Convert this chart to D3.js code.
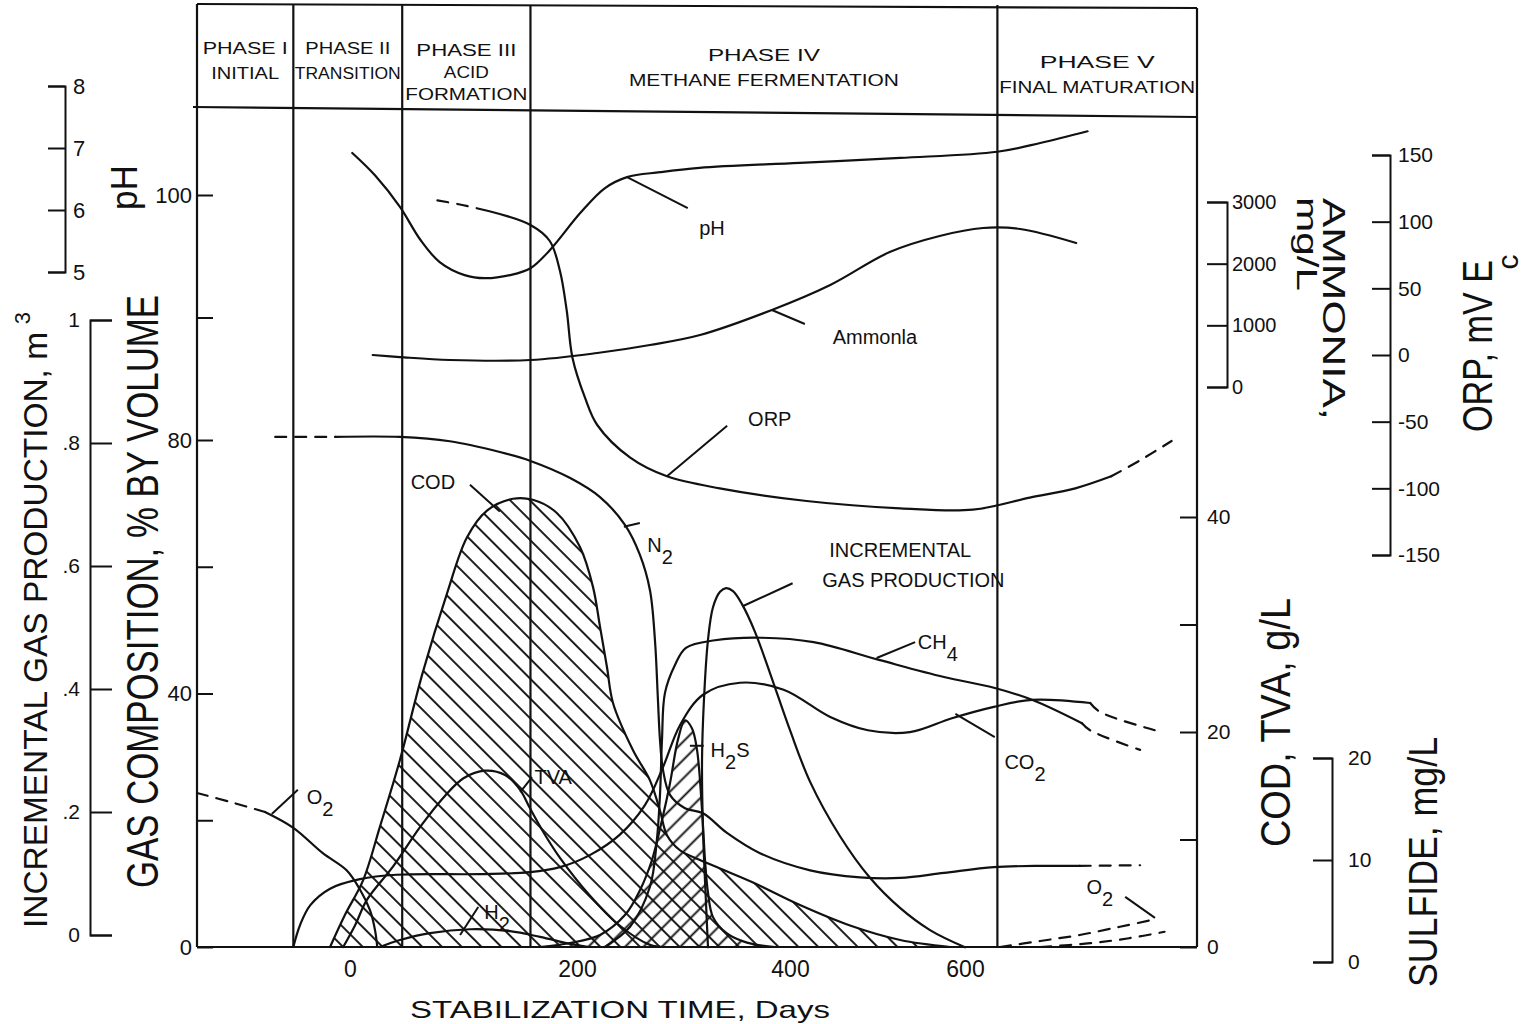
<!DOCTYPE html>
<html><head><meta charset="utf-8">
<script src="https://d3js.org/d3.v7.min.js"></script>
<style>
html,body{margin:0;padding:0;background:#fff;}
svg{display:block;}
text{font-family:"Liberation Sans",Arial,Helvetica,sans-serif;fill:#111;}
</style></head><body>
<svg id="chart" width="1528" height="1024"></svg>
<script>
// ---------------- DATA (days, value) ----------------
const xTickValues = [0, 200, 400, 600];
const phaseBounds = [-50, 46, 159, 637];
const phaseNames = [["PHASE I","INITIAL"],["PHASE II","TRANSITION"],["PHASE III","ACID","FORMATION"],["PHASE IV","METHANE FERMENTATION"],["PHASE  V","FINAL MATURATION"]];

const phTicks = [5, 6, 7, 8];
const prodTicks = [0, 0.2, 0.4, 0.6, 0.8, 1];
const prodTickLabels = ["0", ".2", ".4", ".6", ".8", "1"];
const gasTicks = [0, 20, 40, 60, 80, 100, 120];
const gasTickLabels = ["0", "", "40", "", "80", "", "100"];
const codTicks = [0, 10, 20, 30, 40];
const codTickLabels = ["0", "", "20", "", "40"];
const sulfTicks = [0, 10, 20];
const nh3Ticks = [0, 1000, 2000, 3000];
const orpTicks = [-150, -100, -50, 0, 50, 100, 150];

const pHData = [[2,6.92],[22,6.56],[44,6.05],[62,5.52],[79,5.16],[101,4.95],[119,4.90],[141,4.95],[159,5.06],[176,5.35],[203,5.95],[226,6.35],[247,6.53],[278,6.61],[315,6.68],[411,6.76],[526,6.84],[637,6.94],[686,7.08],[740,7.27]];

const orpDashStart = [[77,116],[99,112.5],[122,108]];
const orpData = [[122,108],[159,97.5],[176,85.5],[185,63],[191,33],[196,-2],[207.5,-32],[219,-52.5],[250,-77],[284.5,-91],[334,-100],[419,-109.5],[526,-115],[609,-116],[674,-107],[726,-100],[767,-91]];
const orpDashEnd = [[767,-91],[800,-79],[836,-64.5]];

const nh3Data = [[20,519],[44,486],[88,438],[159,438],[219,551],[268.5,681],[315.5,843],[383,1249],[446,1654],[514,2189],[571,2449],[620.6,2578],[663,2562],[727,2335]];

const n2DashStart = [[-66,80.5],[-13,80.5]];
const n2Data = [[-13,80.5],[44,80.5],[88,79.8],[132,78.1],[159,76.7],[194,74.0],[221.6,71.0],[245,66.6],[259,61.9],[268.5,56.3],[273.2,48.4],[276,39.0],[277.9,32.7],[280.8,27.9],[287.3,24.0],[301.4,21.9],[318.3,21.1],[340.8,18.0],[371.8,14.8],[423,12.1],[480,11.0],[526,10.9],[576,11.7],[633,12.6],[690,12.8],[731,12.8]];
const n2DashEnd = [[731,12.8],[800,12.9]];

const o2DashStart = [[-135,24.3],[-106,22.9],[-75,21.3]];
const o2Data = [[-75,21.3],[-50,18.8],[-24,14.8],[-3,12.1],[9,9.0],[17.6,5.8],[22,2.7],[24,0]];
const o2LateA = [[640,0],[686,0.95],[731,1.9],[777,3.2],[815,4.3]];
const o2LateB = [[686,0],[743,0.6],[788,1.4],[828,2.4]];

const co2Data = [[-50,0],[-44,3.5],[-35,6.6],[-17.6,9.2],[8.8,10.7],[41,11.4],[114.5,11.5],[158.6,11.8],[185,12.6],[212,14.5],[240,17.7],[263.8,22.4],[280.8,28.4],[296.7,35.0],[318.3,39.8],[353,41.7],[394,40.6],[446,36.3],[489,34.2],[537,33.9],[585,36.1],[633,37.9],[676.5,39.0],[743,38.5]];
const co2DashEnd = [[743,38.5],[754,37.1],[817,34.2]];

const ch4Data = [[226,0],[249.8,3.2],[268.5,9.5],[275,16.9],[278,24.3],[279.8,32.7],[282.6,40.1],[292,44.5],[302.3,47.2],[329.6,48.4],[372.8,48.8],[427,48.1],[501.7,45.3],[576,42.6],[633,40.9],[676.5,39.0],[733.6,35.3]];
const ch4DashEnd = [[733.6,35.3],[742.8,34.2],[800,31.1]];

const h2Data = [[26.4,0],[44,1.1],[70.5,2.2],[105.7,2.8],[141,2.5],[167.4,1.6],[194,0.5],[211,0]];

const tvaData = [[-6,0],[4.4,2.0],[15,4.4],[38,7.5],[62,11.2],[84,14.1],[100,15.7],[119,16.4],[136.6,16.0],[150,14.6],[158.6,12.9],[172,10.4],[185,8.3],[212,4.8],[240,2.0],[268.5,0.2],[282.6,0]];

const codData = [[-17.6,0],[-4.4,3.0],[11.5,6.2],[26.4,11.2],[44,17.4],[64,25.5],[85.5,32.9],[103,38.1],[120.7,40.6],[143.6,41.7],[161,41.6],[182,40.4],[202.8,37.2],[215,33.5],[221.6,29.8],[228.2,26.0],[233.8,22.7],[252.6,18.3],[268.5,15.5],[277.9,12.7],[284.5,10.4],[296.7,9.0],[315.5,8.1],[334.3,7.3],[365.3,6.0],[411.4,3.9],[468.6,2.0],[526,0.65],[583,0]];

const h2sData = [[167.4,1.47],[193.8,1.86],[221.6,2.65],[245,4.6],[259.2,7.06],[270.4,10.0],[279.8,13.9],[287.3,17.5],[294.8,21.8],[301.4,23.7],[308,22.9],[312.7,20.8],[317.4,14.9],[320.2,10.0],[323,6.8],[327.7,4.4],[340.8,2.8],[359.6,1.9],[385.9,1.47]];

const gasProdData = [[323,-0.02],[321,0.057],[318.3,0.171],[317.4,0.285],[319.2,0.382],[323,0.480],[327.7,0.533],[334.3,0.558],[339.9,0.564],[346.5,0.559],[354.9,0.538],[367.1,0.493],[381.2,0.426],[400,0.333],[423,0.249],[457,0.161],[491.4,0.093],[525.7,0.044],[560,0.008],[600,-0.02]];

// annotation anchors (data units)
const annotations = [
  {s:"ph",  parts:[["pH",0]], at:[326.8,5.71], ptr:[[247,6.53],[304,6.03]]},
  {s:"nh3", parts:[["Ammonla",0]], at:[497,811], ptr:[[383,1249],[417,1022]]},
  {s:"orp", parts:[["ORP",0]], at:[381,-48], ptr:[[284.5,-91],[341,-53]]},
  {s:"cod", parts:[["COD",0]], at:[73,43.3], ptr:[[105.7,43.0],[132,40.5]]},
  {s:"gas", parts:[["N",0],["2",1]], at:[278,63.4], ptr:[[244,66.3],[259,66.9]]},
  {s:"gas", parts:[["O",0],["2",1]], at:[-26.4,23.7], ptr:[[-69,21.0],[-46,24.8]]},
  {s:"prod",parts:[["INCREMENTAL",0]], at:[526,0.626], ptr:[[356,0.535],[403,0.572]]},
  {s:"prod",parts:[["GAS PRODUCTION",0]], at:[541,0.577], ptr:null},
  {s:"gas", parts:[["CH",0],["4",1]], at:[569,48.1], ptr:[[499,45.6],[543,48.1]]},
  {s:"gas", parts:[["CO",0],["2",1]], at:[668.5,29.2], ptr:[[589,36.8],[634,33.1]]},
  {s:"sulf",parts:[["H",0],["2",1],["S",0]], at:[343.7,20.8], ptr:[[306,21.2],[319,21.2]]},
  {s:"cod", parts:[["TVA",0]], at:[179,15.8], ptr:[[150,14.4],[160.4,15.8]]},
  {s:"gas", parts:[["H",0],["2",1]], at:[129.5,5.5], ptr:[[97,1.9],[113,6.3]]},
  {s:"gas", parts:[["O",0],["2",1]], at:[754,9.5], ptr:[[783,7.9],[817,4.6]]}
];

// ---------------- SCALES ----------------
const INK = "#111";
const svg = d3.select("#chart");
const x = d3.scaleLinear().domain([-135,0,200,400,600,865]).range([197,350,577,790,965,1197]);
const S = {
  gas:  d3.scaleLinear().domain([0,80,120]).range([947,440,195]),
  prod: d3.scaleLinear().domain([0,1]).range([935,320]),
  ph:   d3.scaleLinear().domain([5,8]).range([272,86]),
  nh3:  d3.scaleLinear().domain([0,3000]).range([387,202]),
  orp:  d3.scaleLinear().domain([-150,150]).range([555,155]),
  cod:  d3.scaleLinear().domain([0,40]).range([947,517]),
  sulf: d3.scaleLinear().domain([0,20]).range([962,758])
};
const base = S.cod(0);
const xL = x(-135), xR = x(865);
const plain = d => String(d);

// ---------------- PATTERNS ----------------
const defs = svg.append("defs");
function hatch(id, angle, gap, w){
  const p = defs.append("pattern").attr("id",id).attr("patternUnits","userSpaceOnUse")
    .attr("width",gap).attr("height",gap).attr("patternTransform",`rotate(${angle})`);
  p.append("line").attr("x1",gap/2).attr("y1",-2).attr("x2",gap/2).attr("y2",gap+2)
    .attr("stroke",INK).attr("stroke-width",w);
}
hatch("hCOD", -45, 14, 1.9);
hatch("hS", 45, 13, 1.9);

const curve = d3.curveCatmullRom.alpha(0.5);
const lineOf = s => d3.line().x(d=>x(d[0])).y(d=>S[s](d[1])).curve(curve);
const areaOf = s => d3.area().x(d=>x(d[0])).y0(base).y1(d=>S[s](d[1])).curve(curve);

// hatched regions
svg.append("path").datum(codData).attr("d",areaOf("cod")).attr("fill","url(#hCOD)");
svg.append("path").datum(h2sData).attr("d",areaOf("sulf")).attr("fill","url(#hS)");

// ---------------- FRAME ----------------
const g0 = svg.append("g").attr("stroke",INK).attr("stroke-width",2.2).attr("fill","none");
g0.append("line").attr("x1",xL).attr("y1",4).attr("x2",xR).attr("y2",8);
g0.append("line").attr("x1",xL-4).attr("y1",107).attr("x2",xR).attr("y2",117);
g0.append("line").attr("x1",xL).attr("y1",4).attr("x2",xL).attr("y2",base);
g0.append("line").attr("x1",xR).attr("y1",8).attr("x2",xR).attr("y2",base);
g0.append("line").attr("x1",xL).attr("y1",base).attr("x2",xR).attr("y2",base);
phaseBounds.forEach(b=>{
  g0.append("line").attr("x1",x(b)).attr("y1",5).attr("x2",x(b)).attr("y2",base);
});

// phase headers
const edges = [-135, ...phaseBounds, 865];
const headerY = [[48,73],[48,73],[50,72,94],[55,80],[62,87]];
const headerW = [[85,68],[85,106],[100,45,122],[112,270],[115,196]];
phaseNames.forEach((lines,i)=>{
  const cx = (x(edges[i])+x(edges[i+1]))/2;
  lines.forEach((t,j)=>{
    svg.append("text").attr("x",cx).attr("y",headerY[i][j]).attr("dy","0.36em")
      .attr("text-anchor","middle").style("font-size","16px")
      .attr("textLength",headerW[i][j]).attr("lengthAdjust","spacingAndGlyphs").text(t);
  });
});

// ---------------- SERIES LINES ----------------
function draw(data, s, dashed){
  svg.append("path").datum(data).attr("d",lineOf(s)).attr("fill","none")
    .attr("stroke",INK).attr("stroke-width",2.2).attr("stroke-linecap","round")
    .attr("stroke-dasharray",dashed?"11,9":null);
}
draw(codData,"cod");
draw(h2sData,"sulf");
draw(tvaData,"cod");
draw(pHData,"ph");
draw(orpDashStart,"orp",true); draw(orpData,"orp"); draw(orpDashEnd,"orp",true);
draw(nh3Data,"nh3");
draw(n2DashStart,"gas",true); draw(n2Data,"gas"); draw(n2DashEnd,"gas",true);
draw(o2DashStart,"gas",true); draw(o2Data,"gas");
draw(o2LateA,"gas",true); draw(o2LateB,"gas",true);
draw(co2Data,"gas"); draw(co2DashEnd,"gas",true);
draw(ch4Data,"gas"); draw(ch4DashEnd,"gas",true);
draw(h2Data,"gas");
draw(gasProdData,"prod");

// ---------------- ANNOTATIONS ----------------
annotations.forEach(a=>{
  const sc = S[a.s];
  if(a.ptr){
    svg.append("line").attr("x1",x(a.ptr[0][0])).attr("y1",sc(a.ptr[0][1]))
      .attr("x2",x(a.ptr[1][0])).attr("y2",sc(a.ptr[1][1]))
      .attr("stroke",INK).attr("stroke-width",2);
  }
  const t = svg.append("text").attr("x",x(a.at[0])).attr("y",sc(a.at[1])).attr("dy","0.35em")
    .attr("text-anchor","middle").style("font-size","20px");
  let sub = false;
  a.parts.forEach(([s,isSub])=>{
    const ts = t.append("tspan").text(s);
    if(isSub && !sub){ ts.attr("dy","0.6em"); sub = true; }
    else if(!isSub && sub){ ts.attr("dy","-0.6em"); sub = false; }
  });
});

// ---------------- AXES ----------------
function style(g, fs, hideDomain){
  g.attr("font-family",null).attr("font-size",null);
  g.selectAll("path,line").attr("stroke",INK).attr("stroke-width",2);
  g.selectAll("text").attr("fill",INK).style("font-size",fs+"px");
  if(hideDomain) g.select(".domain").remove();
}
style(svg.append("g").attr("transform","translate(65,0)")
  .call(d3.axisRight(S.ph).tickValues(phTicks).tickSizeInner(-17).tickSizeOuter(-17).tickPadding(8).tickFormat(plain)), 22);
style(svg.append("g").attr("transform","translate(90,0)")
  .call(d3.axisLeft(S.prod).tickValues(prodTicks).tickSizeInner(-22).tickSizeOuter(-22).tickPadding(10).tickFormat((d,i)=>prodTickLabels[i])), 21);
style(svg.append("g").attr("transform",`translate(${xL},0)`)
  .call(d3.axisLeft(S.gas).tickValues(gasTicks).tickSizeInner(-16).tickSizeOuter(0).tickPadding(5).tickFormat((d,i)=>gasTickLabels[i])), 22, true);
style(svg.append("g").attr("transform",`translate(${xR},0)`)
  .call(d3.axisRight(S.cod).tickValues(codTicks).tickSizeInner(-17).tickSizeOuter(0).tickPadding(10).tickFormat((d,i)=>codTickLabels[i])), 21, true);
style(svg.append("g").attr("transform","translate(1332,0)")
  .call(d3.axisRight(S.sulf).tickValues(sulfTicks).tickSizeInner(-19).tickSizeOuter(-19).tickPadding(16).tickFormat(plain)), 21);
style(svg.append("g").attr("transform","translate(1227,0)")
  .call(d3.axisRight(S.nh3).tickValues(nh3Ticks).tickSizeInner(-20).tickSizeOuter(-20).tickPadding(5).tickFormat(plain)), 20);
style(svg.append("g").attr("transform","translate(1390,0)")
  .call(d3.axisRight(S.orp).tickValues(orpTicks).tickSizeInner(-18).tickSizeOuter(-18).tickPadding(8).tickFormat(plain)), 21);
style(svg.append("g").attr("transform",`translate(0,${base})`)
  .call(d3.axisBottom(x).tickValues(xTickValues).tickSize(0).tickPadding(14).tickFormat(plain)), 23, true);

// ---------------- AXIS TITLES ----------------
function title(txt, px, py, rot, fs, len, anchor){
  const t = svg.append("text").attr("transform",`translate(${px},${py}) rotate(${rot})`)
    .attr("text-anchor",anchor||"start").style("font-size",fs+"px").text(txt);
  if(len) t.attr("textLength",len).attr("lengthAdjust","spacingAndGlyphs");
  return t;
}
title("INCREMENTAL GAS PRODUCTION, m", 47, 928, -90, 33, 596);
title("3", 30, 318, -90, 22, null, "middle");
title("GAS COMPOSITION, % BY VOLUME", 158, 888, -90, 44, 593);
title("pH", 137, 210, -90, 36, 45);
title("COD, TVA, g/L", 1290, 847, -90, 42, 249);
title("SULFIDE, mg/L", 1437, 987, -90, 40, 250);
title("ORP, mV E", 1492, 432, -90, 42, 172);
title("c", 1518, 262, -90, 30, null, "middle");
title("AMMONIA,", 1323, 198, 90, 32, 222);
title("mg/L", 1297, 197, 90, 30, 94);
title("STABILIZATION TIME, Days", 620, 1018, 0, 24, 420, "middle");
</script></body></html>
